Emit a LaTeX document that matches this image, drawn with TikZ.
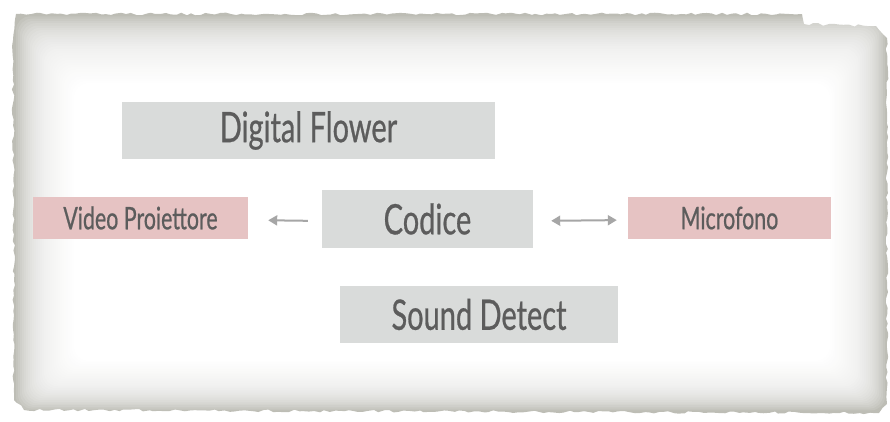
\documentclass[tikz,border=0pt]{standalone}
\usepackage{fontspec}
\newfontfamily\condfont[FakeStretch=0.69,FakeBold=0.6]{Lato}
\usetikzlibrary{arrows.meta,decorations.pathmorphing}
\definecolor{boxgrey}{HTML}{D9DBDA}
\definecolor{boxpink}{HTML}{E6C3C3}
\definecolor{txtgrey}{HTML}{5C5C5C}
\definecolor{arrgrey}{HTML}{A6A6A6}
\definecolor{papergrey}{HTML}{BDBDB5}
\tikzset{
  block/.style={fill=boxgrey,text=txtgrey,inner sep=0pt,
    font=\condfont\fontsize{42}{42}\selectfont},
  device/.style={fill=boxpink,text=txtgrey,inner sep=0pt,
    minimum height=42pt,font=\condfont\fontsize{31}{31}\selectfont},
  link/.style={draw=arrgrey,line width=2pt,>={Triangle[length=9pt,width=10pt]}}
}
\begin{document}
\begin{tikzpicture}[x=1pt,y=-1pt]
  \useasboundingbox (0,0) rectangle (890,421);
  % torn paper
  \pgfmathsetseed{7}
  \fill[papergrey,decorate,decoration={random steps,segment length=5pt,amplitude=1.3pt}]
    (16,14) -- (802,14) -- (804,24) -- (876,26) -- (887,38) -- (887,404)
    -- (879,413) -- (24,410) -- (14,400) -- (13,40) -- cycle;
  \foreach \i [evaluate=\i as \op using {1-(exp(-0.11*\i)-0.0369)/(exp(-0.11*(\i-1))-0.0369)}] in {1,...,30}
    \fill[white,opacity=\op,rounded corners=14pt]
      (14+2*\i,14+2.3*\i) rectangle (887-1.9*\i,412-1.7*\i);
  % boxes
  \node[block,minimum width=373pt,minimum height=57pt] (flower) at (308.5,130.5) {Digital Flower};
  \node[block,minimum width=211pt,minimum height=58pt] (codice) at (427.5,219) {Codice};
  \node[block,minimum width=278pt,minimum height=57pt] (sound) at (479,314.5) {Sound Detect};
  \node[device,minimum width=215pt] (video) at (140.5,218) {Video Proiettore};
  \node[device,minimum width=203pt] (micro) at (729.5,218) {Microfono};
  % links
  \draw[link,->,shorten <=14pt,shorten >=20pt] ([yshift=-2pt]codice.west) -- ([yshift=-2pt]video.east);
  \draw[link,<->,shorten <=18pt,shorten >=11pt] ([yshift=-2pt]codice.east) -- ([yshift=-2pt]micro.west);
\end{tikzpicture}
\end{document}
